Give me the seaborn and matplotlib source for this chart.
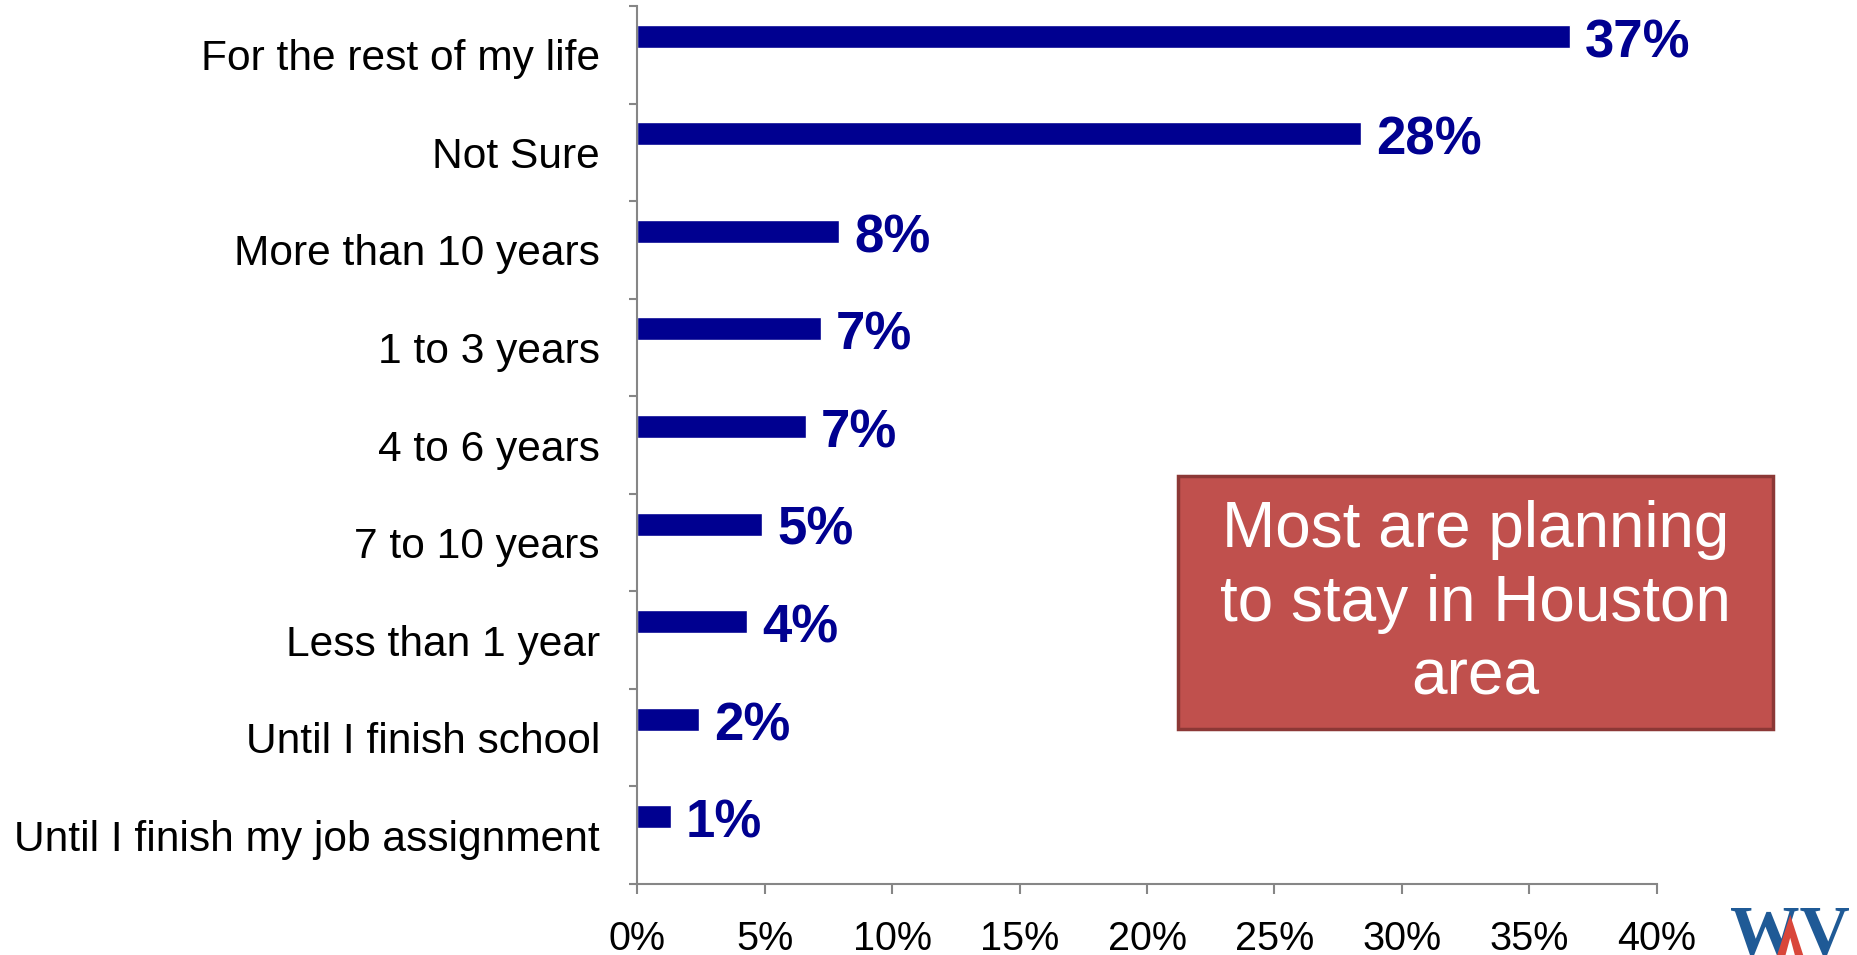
import matplotlib
matplotlib.use("Agg")
import matplotlib.pyplot as plt
import seaborn as sns
import numpy as np
from matplotlib.patches import Rectangle, Polygon
from matplotlib.ticker import FuncFormatter

# --- data ---
categories = ["For the rest of my life", "Not Sure", "More than 10 years", "1 to 3 years",
              "4 to 6 years", "7 to 10 years", "Less than 1 year", "Until I finish school",
              "Until I finish my job assignment"]
shares = [36.6, 28.4, 7.9, 7.2, 6.6, 4.9, 4.3, 2.4, 1.3]
value_labels = ["37%", "28%", "8%", "7%", "7%", "5%", "4%", "2%", "1%"]
x_ticks = [0, 5, 10, 15, 20, 25, 30, 35, 40]
callout = "Most are planning\nto stay in Houston\narea"

sns.set_style("white")
plt.rcParams['font.family'] = ['Liberation Sans', 'DejaVu Sans']

fig = plt.figure(figsize=(18.58, 9.55), dpi=100)
ax = fig.add_axes([0.3431, 0.0743, 0.8916 - 0.3431, 0.9937 - 0.0743])

sns.barplot(x=shares, y=categories, orient="h", width=0.235, color="#000090",
            saturation=1, ax=ax)

# bars sit in the upper part of each category band
for p in ax.patches:
    p.set_y(p.get_y() - 0.19)

for p, lab in zip(ax.patches, value_labels):
    ax.annotate(lab, (p.get_width(), p.get_y() + p.get_height() / 2),
                xytext=(11, -5), textcoords="offset points", va="center", ha="left",
                fontsize=38, fontweight="bold", color="#000090")

ax.set_xlim(0, 40)
ax.set_ylim(8.5, -0.5)
ax.set_xticks(x_ticks)
ax.xaxis.set_major_formatter(FuncFormatter(lambda v, _: f"{v:.0f}%"))
ax.set_yticks(np.arange(-0.5, 9, 1), minor=True)
ax.set_xlabel("")
ax.set_ylabel("")

for s in ["top", "right"]:
    ax.spines[s].set_visible(False)
for s in ["left", "bottom"]:
    ax.spines[s].set_color("#868686")
    ax.spines[s].set_linewidth(1.5)

ax.tick_params(axis="y", which="major", length=0, pad=27, labelsize=30.6, labelcolor="black")
ax.tick_params(axis="y", which="minor", left=True, length=6, width=1.5, color="#868686")
ax.tick_params(axis="x", which="major", bottom=True, length=7, width=1.5, color="#868686",
               pad=19, labelsize=28.5, labelcolor="black")

# callout box
fig.patches.append(Rectangle((0.634, 0.2366), 0.320, 0.265, transform=fig.transFigure,
                             facecolor="#C0504D", edgecolor="#8C3836", linewidth=2.5,
                             zorder=5))
fig.text(0.794, 0.3675, callout, ha="center", va="center", color="white",
         fontsize=46, linespacing=1.29, zorder=6)

# logo in the corner
fig.text(0.931, 0.052, "WV", color="#1F5A96", fontsize=50, fontweight="bold",
         family="Liberation Serif", va="top", ha="left")
fig.patches.append(Polygon([(0.9565, 0.0), (0.9635, 0.042), (0.9705, 0.0), (0.966, 0.0),
                            (0.9635, 0.018), (0.961, 0.0)], closed=True,
                           transform=fig.transFigure, facecolor="#D9463A",
                           edgecolor="none", zorder=7))

plt.savefig("out.png", dpi=100)
